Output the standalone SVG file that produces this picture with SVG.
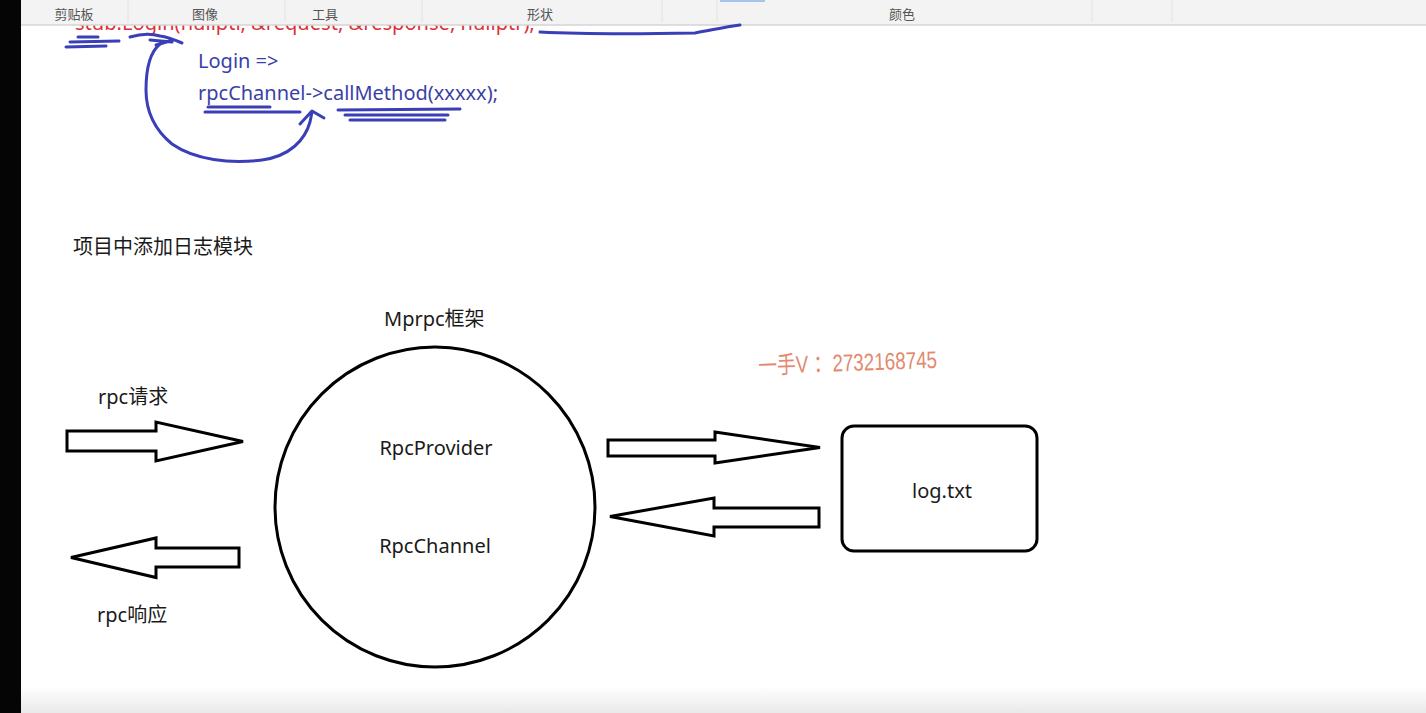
<svg xmlns="http://www.w3.org/2000/svg" width="1426" height="713" viewBox="0 0 1426 713">
<defs>
<linearGradient id="bot" x1="0" y1="0" x2="0" y2="1"><stop offset="0" stop-color="#ffffff"/><stop offset="1" stop-color="#e9e9e9"/></linearGradient>
<style>
.t{font-family:"Noto Sans","Noto Sans CJK SC",sans-serif;fill:#1a1a1a;font-size:20px}
.tb{font-family:"Noto Sans CJK SC",sans-serif;fill:#555;font-size:13px}
.code{font-family:"Noto Sans","Noto Sans CJK SC",sans-serif;font-size:20px}
.ink{fill:none;stroke:#3a3fb8;stroke-width:3;stroke-linecap:round;stroke-linejoin:round}
.shape{fill:#ffffff;stroke:#000;stroke-width:3;stroke-linejoin:miter}
</style>
</defs>
<rect x="0" y="0" width="1426" height="713" fill="#ffffff"/>
<!-- code text (partially hidden under toolbar) -->
<text class="code" x="75" y="30" fill="#e03038" textLength="460" lengthAdjust="spacingAndGlyphs">stub.Login(nullptr, &amp;request, &amp;response, nullptr);</text>
<text class="code" x="198" y="68" fill="#3a3fa8">Login =&gt;</text>
<text class="code" x="198" y="100" fill="#3a3fa8" textLength="300" lengthAdjust="spacingAndGlyphs">rpcChannel-&gt;callMethod(xxxxx);</text>
<!-- toolbar -->
<g id="toolbar">
<rect x="0" y="0" width="1426" height="25" fill="#f3f3f3"/>
<line x1="0" y1="25" x2="1426" y2="25" stroke="#d4d4d4" stroke-width="1.5"/>
<rect x="720" y="0" width="45" height="2" fill="#a8c4e8"/>
<g stroke="#e2e2e2" stroke-width="1">
<line x1="128" y1="0" x2="128" y2="22"/><line x1="285" y1="0" x2="285" y2="22"/><line x1="422" y1="0" x2="422" y2="22"/>
<line x1="662" y1="0" x2="662" y2="22"/><line x1="717" y1="0" x2="717" y2="22"/>
<line x1="1092" y1="0" x2="1092" y2="22"/><line x1="1172" y1="0" x2="1172" y2="22"/>
</g>
<text class="tb" x="74" y="19" text-anchor="middle">剪贴板</text>
<text class="tb" x="205" y="19" text-anchor="middle">图像</text>
<text class="tb" x="325" y="19" text-anchor="middle">工具</text>
<text class="tb" x="540" y="19" text-anchor="middle">形状</text>
<text class="tb" x="902" y="19" text-anchor="middle">颜色</text>
</g>
<rect x="0" y="0" width="21" height="713" fill="#050505"/>
<rect x="21" y="686" width="1405" height="27" fill="url(#bot)"/>
<!-- hand-drawn annotations -->
<g id="ink">
<path class="ink" d="M78 37 L98 37 M70 42 L119 41 M66 47 L106 46"/>
<path class="ink" d="M540 32 C580 34 640 34 695 33 C712 30 725 27 740 25"/>
<path class="ink" d="M130 37 C140 34 150 33 160 36 C168 37 175 40 182 43 M150 40 L172 42 M156 45 L170 41"/>
<path class="ink" d="M160 44 C150 52 146 68 146 90 C146 112 155 130 172 144 C195 160 230 164 262 160 C290 156 305 140 310 122 L312 112"/>
<path class="ink" d="M300 124 L312 111 L324 118"/>
<path class="ink" d="M208 107 L270 107 M205 112 L300 112"/>
<path class="ink" d="M338 110 L460 109 M345 115 L448 115 M350 120 L445 120"/>
</g>
<!-- diagram -->
<text class="t" x="73" y="254" font-size="19">项目中添加日志模块</text>
<text class="t" x="384" y="326">Mprpc框架</text>
<g id="mprpc">
<ellipse class="shape" cx="435" cy="507" rx="160" ry="160" fill="none"/>
<text class="t" x="436" y="455" text-anchor="middle">RpcProvider</text>
<text class="t" x="435" y="553" text-anchor="middle">RpcChannel</text>
</g>
<g id="logfile">
<rect class="shape" x="842" y="426" width="195" height="125" rx="12"/>
<text class="t" x="942" y="498" text-anchor="middle">log.txt</text>
</g>
<g id="connectors">
<polygon class="shape" points="67,431 156,431 156,422 243,441.5 156,461 156,451 67,451"/>
<polygon class="shape" points="71,557.5 156,538 156,548 239,548 239,567 156,567 156,577.5"/>
<polygon class="shape" points="608,440 715,440 715,432 820,447.5 715,463 715,456 608,456"/>
<polygon class="shape" points="610,516.5 714,498 714,508 819,508 819,527 714,527 714,536"/>
</g>
<text class="t" x="98" y="404">rpc请求</text>
<text class="t" x="97" y="622">rpc响应</text>
<text x="758" y="371" font-family="'Liberation Sans','Noto Sans CJK SC',sans-serif" font-size="24" fill="#e2896e" textLength="179" lengthAdjust="spacingAndGlyphs" transform="rotate(-2 848 360)">一手V ：2732168745</text>
</svg>
